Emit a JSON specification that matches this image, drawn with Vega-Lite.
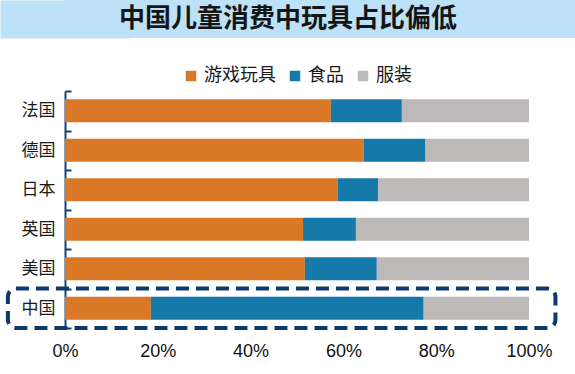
{
  "$schema": "https://vega.github.io/schema/vega-lite/v6.json",
  "background": "white",
  "padding": 0,
  "spacing": 29,
  "columns": 1,
  "align": "none",
  "resolve": {"legend": {"color": "independent"}},
  "concat": [
    {
      "width": 510,
      "height": 38,
      "view": {"fill": "#BDE1F7", "stroke": null},
      "data": {"values": [{"t": "中国儿童消费中玩具占比偏低"}]},
      "mark": {"type": "text", "font": "Noto Sans CJK SC", "fontSize": 26, "fontWeight": "bold", "color": "#151515", "baseline": "middle", "align": "center", "dx": -32},
      "encoding": {
        "text": {"field": "t", "type": "nominal"},
        "y": {"field": "t", "type": "nominal", "scale": {"paddingInner": 0, "paddingOuter": 0},
              "axis": {"title": null, "labels": false, "ticks": false, "domainColor": "#BDE1F7", "domainWidth": 130, "domainCap": "butt", "minExtent": 0}}
      }
    },
    {
      "width": 464,
      "height": 237,
      "layer": [
        {
          "data": {"values": [
            {"country": "法国", "cat": "游戏玩具", "k": 1, "v": 0.573},
            {"country": "法国", "cat": "食品", "k": 2, "v": 0.153},
            {"country": "法国", "cat": "服装", "k": 3, "v": 0.274},
            {"country": "德国", "cat": "游戏玩具", "k": 1, "v": 0.644},
            {"country": "德国", "cat": "食品", "k": 2, "v": 0.133},
            {"country": "德国", "cat": "服装", "k": 3, "v": 0.223},
            {"country": "日本", "cat": "游戏玩具", "k": 1, "v": 0.588},
            {"country": "日本", "cat": "食品", "k": 2, "v": 0.087},
            {"country": "日本", "cat": "服装", "k": 3, "v": 0.325},
            {"country": "英国", "cat": "游戏玩具", "k": 1, "v": 0.513},
            {"country": "英国", "cat": "食品", "k": 2, "v": 0.114},
            {"country": "英国", "cat": "服装", "k": 3, "v": 0.373},
            {"country": "美国", "cat": "游戏玩具", "k": 1, "v": 0.517},
            {"country": "美国", "cat": "食品", "k": 2, "v": 0.155},
            {"country": "美国", "cat": "服装", "k": 3, "v": 0.328},
            {"country": "中国", "cat": "游戏玩具", "k": 1, "v": 0.185},
            {"country": "中国", "cat": "食品", "k": 2, "v": 0.588},
            {"country": "中国", "cat": "服装", "k": 3, "v": 0.227}
          ]},
          "mark": {"type": "bar", "height": {"band": 0.58}},
          "encoding": {
            "y": {"field": "country", "type": "nominal", "sort": ["法国", "德国", "日本", "英国", "美国", "中国"],
                  "scale": {"paddingInner": 0, "paddingOuter": 0},
                  "axis": {"title": null, "domainColor": "#17406F", "domainWidth": 2, "tickColor": "#17406F", "tickWidth": 2, "tickSize": -6, "tickBand": "extent",
                           "labelFont": "Noto Sans CJK SC", "labelFontSize": 17, "labelColor": "#1a1a1a", "labelPadding": 16, "minExtent": 65}},
            "x": {"field": "v", "type": "quantitative", "stack": "zero",
                  "scale": {"domain": [0, 1], "nice": false},
                  "axis": {"title": null, "format": ".0%", "values": [0, 0.2, 0.4, 0.6, 0.8, 1], "domain": false, "ticks": false, "grid": false, "labelFlush": false,
                           "labelFont": "Liberation Sans", "labelFontSize": 18, "labelColor": "#111111", "labelPadding": 14}},
            "color": {"field": "cat", "type": "nominal", "sort": ["游戏玩具", "食品", "服装"],
                      "scale": {"domain": ["游戏玩具", "食品", "服装"], "range": ["#D97826", "#1579AA", "#BEB9B9"]},
                      "legend": {"title": null, "orient": "top", "direction": "horizontal", "symbolType": "square", "symbolSize": 110, "symbolStrokeWidth": 0,
                                 "labelFont": "Noto Sans CJK SC", "labelFontSize": 18, "labelColor": "#1a1a1a", "labelOffset": 4, "columnPadding": 10, "offset": 6}},
            "order": {"field": "k", "type": "quantitative"}
          }
        },
        {
          "data": {"values": [{"country": "中国", "x0": -0.123, "x1": 1.057}]},
          "mark": {"type": "rect", "fillOpacity": 0, "stroke": "#0C3A6C", "strokeWidth": 4, "strokeDash": [13, 7], "cornerRadius": 8, "clip": false},
          "encoding": {
            "y": {"field": "country", "type": "nominal", "sort": ["法国", "德国", "日本", "英国", "美国", "中国"]},
            "x": {"field": "x0", "type": "quantitative", "scale": {"domain": [0, 1], "nice": false}},
            "x2": {"field": "x1"}
          }
        }
      ]
    }
  ],
  "config": {
    "view": {"stroke": null},
    "legend": {"layout": {"top": {"anchor": "middle"}}}
  }
}
